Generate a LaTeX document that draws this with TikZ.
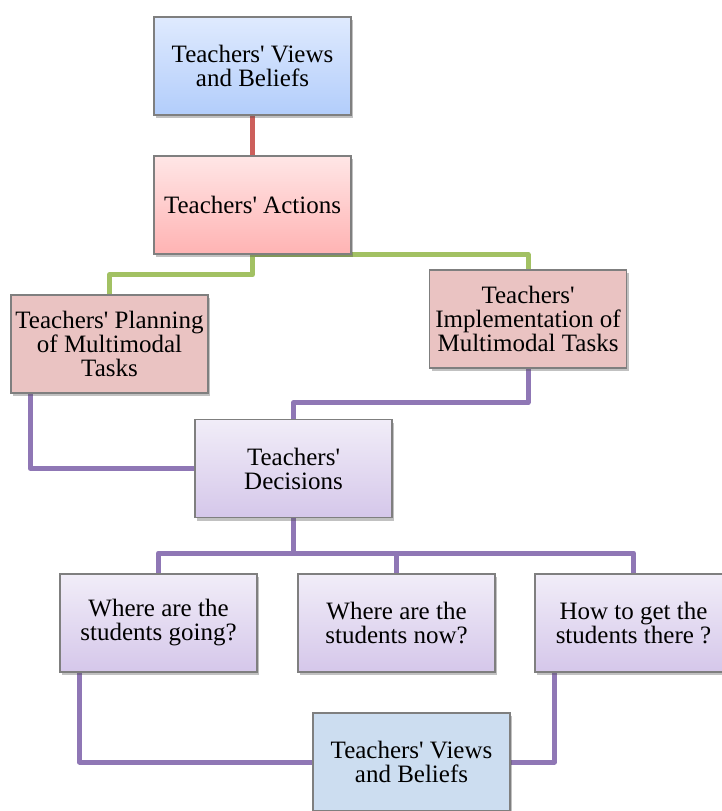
\documentclass[tikz,border=0pt]{standalone}
\usepackage{fontspec}
\setmainfont[Ligatures=TeXOff]{Liberation Serif}
\usepackage{tikz}
\usetikzlibrary{positioning,shadows,backgrounds}
\definecolor{BorderGray}{HTML}{7F7F7F}
\definecolor{BlueTop}{HTML}{DFEAFE}
\definecolor{BlueBot}{HTML}{B2CDFB}
\definecolor{RoseTop}{HTML}{FFE6E6}
\definecolor{RoseBot}{HTML}{FFB3B3}
\definecolor{Mauve}{HTML}{EAC3C2}
\definecolor{LilaTop}{HTML}{F1EDF8}
\definecolor{LilaBot}{HTML}{D5C7EA}
\definecolor{SkyCell}{HTML}{CCDDF0}
\definecolor{lnkrojo}{HTML}{CC5F5B}
\definecolor{lnkverde}{HTML}{A2C163}
\definecolor{lnklila}{HTML}{8F77B5}
\tikzset{
  blk/.style      = {draw=BorderGray, line width=1.2pt, align=center,
                     font=\fontsize{25pt}{24pt}\selectfont,
                     minimum width=197pt, minimum height=98pt, inner sep=1pt,
                     drop shadow={shadow xshift=2pt, shadow yshift=-3pt,
                                  opacity=.35, fill=black!70}},
  blkblue/.style  = {blk, top color=BlueTop, bottom color=BlueBot},
  blkrose/.style  = {blk, top color=RoseTop, bottom color=RoseBot},
  blkmauve/.style = {blk, fill=Mauve},
  blklila/.style  = {blk, top color=LilaTop, bottom color=LilaBot},
  blksky/.style   = {blk, fill=SkyCell},
  lnk/.style      = {line width=5pt, line join=round},
  lnkred/.style   = {lnk, draw=lnkrojo},
  lnkgreen/.style = {lnk, draw=lnkverde},
  lnkpurple/.style= {lnk, draw=lnklila},
}
\begin{document}
\begin{tikzpicture}[x=1pt, y=-1pt]
  \useasboundingbox (0,0) rectangle (721,811);
  \node[blkblue]  (views)   at (252.5,66)  {Teachers' Views\\and Beliefs};
  \node[blkrose]  (actions) at (252.5,205) {Teachers' Actions};
  \node[blkmauve] (plan)    at (109.5,344) {Teachers' Planning\\of Multimodal\\Tasks};
  \node[blkmauve] (impl)    at (528,319)   {Teachers'\\Implementation of\\Multimodal Tasks};
  \node[blklila]  (dec)     at (293.5,468.5) {Teachers'\\Decisions};
  \node[blklila]  (going)   at (158.5,623) {Where are the\\students going?};
  \node[blklila]  (now)     at (396.5,623) {Where are the\\students now?};
  \node[blklila]  (there)   at (633.5,623) {How to get the\\students there ?};
  \node[blksky]   (beliefs) at (411.5,762) {Teachers' Views\\and Beliefs};
  \begin{scope}[on background layer]
    \draw[lnkred]    (views) -- (actions);
    \draw[lnkgreen]  (actions.south) -- ++(0,20) -| (plan.north);
    \draw[lnkgreen]  (actions.south) -| (impl.north);
    \draw[lnkpurple] ([xshift=20pt]plan.south west) |- (dec.west);
    \draw[lnkpurple] (impl.south) -- ++(0,34) -| (dec.north);
    \draw[lnkpurple] (dec.south) -- ++(0,35) -| (going.north);
    \draw[lnkpurple] (dec.south) -- ++(0,35) -| (now.north);
    \draw[lnkpurple] (dec.south) -- ++(0,35) -| (there.north);
    \draw[lnkpurple] ([xshift=20pt]going.south west) |- (beliefs.west);
    \draw[lnkpurple] ([xshift=20pt]there.south west) |- (beliefs.east);
  \end{scope}
\end{tikzpicture}
\end{document}
